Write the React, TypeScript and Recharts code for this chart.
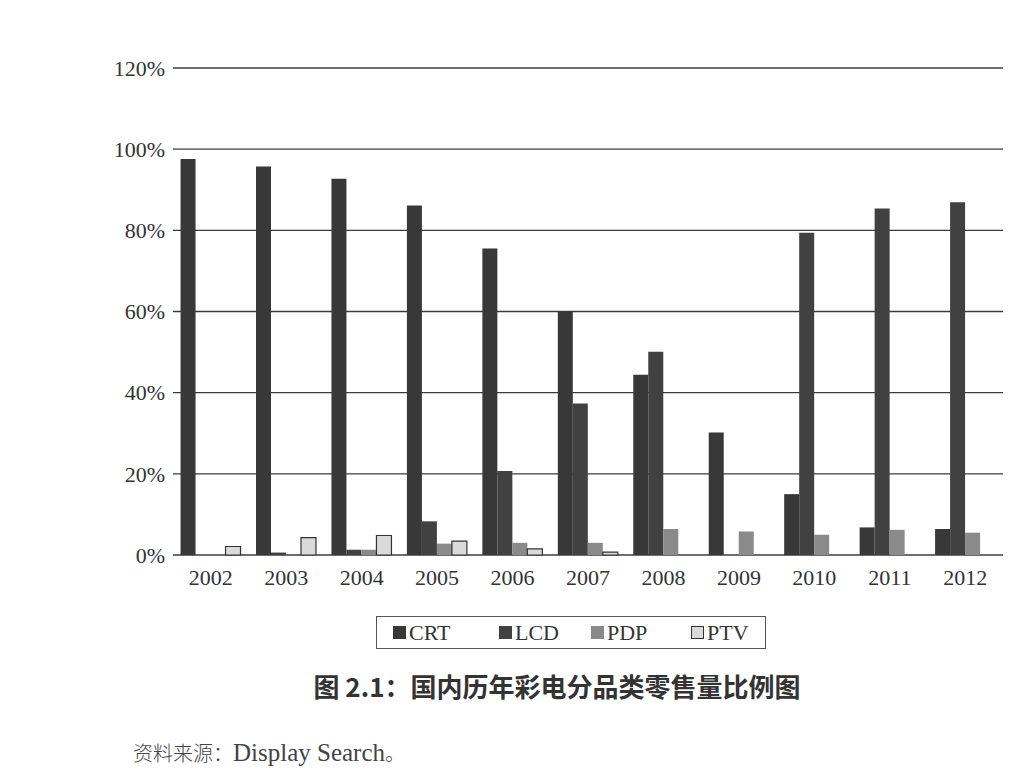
import { BarChart, Bar, XAxis, YAxis, CartesianGrid } from 'recharts';

const years = ['2002', '2003', '2004', '2005', '2006', '2007', '2008', '2009', '2010', '2011', '2012'];
const crt = [97.6, 95.7, 92.7, 86.1, 75.5, 60.0, 44.4, 30.2, 15.0, 6.8, 6.4];
const lcd = [0, 0.6, 1.3, 8.3, 20.7, 37.3, 50.1, 0, 79.4, 85.4, 86.9];
const pdp = [0, 0, 1.3, 2.8, 3.0, 3.0, 6.4, 5.8, 5.0, 6.2, 5.5];
const ptv = [2.1, 4.3, 4.8, 3.4, 1.5, 0.7, 0, 0, 0, 0, 0];
const yTicks = [0, 20, 40, 60, 80, 100, 120];

const series = [
  { key: 'CRT', fill: '#383838', stroke: 'none', legendX: 16 },
  { key: 'LCD', fill: '#414141', stroke: 'none', legendX: 122 },
  { key: 'PDP', fill: '#8a8a8a', stroke: 'none', legendX: 214 },
  { key: 'PTV', fill: '#dadada', stroke: '#333', legendX: 314 },
];

const data = years.map((year, i) => ({ year, CRT: crt[i], LCD: lcd[i], PDP: pdp[i], PTV: ptv[i] }));

const serif = '"Liberation Serif", "DejaVu Serif", serif';
const cjk = '"Noto Sans CJK SC", "Noto Sans", sans-serif';

export default function App() {
  return (
    <div style={{ position: 'absolute', left: 0, top: 0, width: 1028, height: 774, background: '#fff', overflow: 'hidden' }}>
      <BarChart
        width={1028}
        height={620}
        data={data}
        margin={{ top: 68, right: 25, left: 0, bottom: 0 }}
        barCategoryGap="10%"
        barGap={0}
      >
        <CartesianGrid vertical={false} stroke="#3c3c3c" strokeWidth={1.3} />
        <XAxis
          dataKey="year"
          height={65}
          axisLine={false}
          tickLine={false}
          tickMargin={8}
          tick={{ fill: '#333', fontSize: 22, fontFamily: serif }}
        />
        <YAxis
          width={173}
          domain={[0, 120]}
          ticks={yTicks}
          axisLine={false}
          tickLine={false}
          tickFormatter={(v) => `${v}%`}
          tick={{ fill: '#333', fontSize: 22, fontFamily: serif }}
        />
        {series.map((s) => (
          <Bar
            key={s.key}
            dataKey={s.key}
            fill={s.fill}
            stroke={s.stroke}
            strokeWidth={s.stroke === 'none' ? 0 : 1.2}
            isAnimationActive={false}
          />
        ))}
      </BarChart>

      {/* legend box */}
      <div
        style={{
          position: 'absolute',
          left: 376,
          top: 616,
          width: 388,
          height: 31,
          border: '1.5px solid #555',
        }}
      >
        {series.map((s) => (
          <div
            key={s.key}
            style={{ position: 'absolute', left: s.legendX, top: 0, height: 31, display: 'flex', alignItems: 'center' }}
          >
            <span
              style={{
                display: 'inline-block',
                width: 11,
                height: 11,
                background: s.fill,
                border: s.stroke === 'none' ? `1px solid ${s.fill}` : '1px solid #333',
                marginRight: 3,
              }}
            />
            <span style={{ fontFamily: serif, fontSize: 22, color: '#333' }}>{s.key}</span>
          </div>
        ))}
      </div>

      <div
        style={{
          position: 'absolute',
          left: 0,
          width: 1114,
          top: 670,
          textAlign: 'center',
          fontFamily: cjk,
          fontWeight: 'bold',
          fontSize: 26,
          color: '#333',
          lineHeight: '32px',
        }}
      >
        图 2.1：国内历年彩电分品类零售量比例图
      </div>

      <div style={{ position: 'absolute', left: 133, top: 738, color: '#444', lineHeight: '30px', whiteSpace: 'nowrap' }}>
        <span style={{ fontFamily: cjk, fontWeight: 300, fontSize: 20 }}>资料来源：</span>
        <span style={{ fontFamily: serif, fontSize: 25 }}>Display Search</span>
        <span style={{ fontFamily: cjk, fontWeight: 300, fontSize: 20 }}>。</span>
      </div>
    </div>
  );
}
